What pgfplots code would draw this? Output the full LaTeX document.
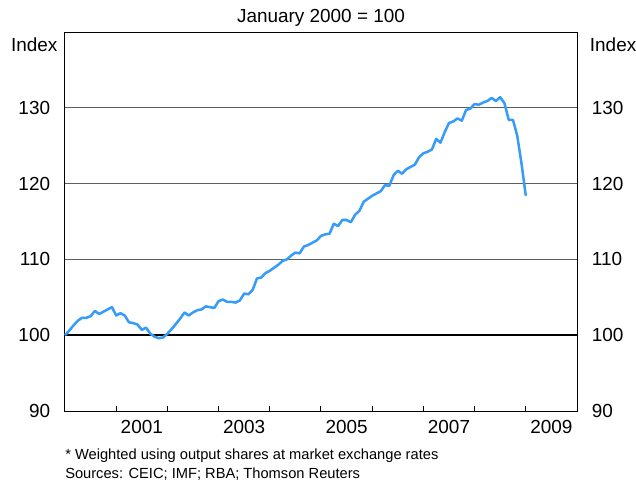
\documentclass[border=0pt]{standalone}
\usepackage{fontspec}
\setmainfont{Liberation Sans}
\usepackage{pgfplots}
\pgfplotsset{compat=1.18}
\definecolor{lineblue}{RGB}{55,155,250}
\definecolor{gridgray}{RGB}{95,95,95}
\begin{document}
\begin{tikzpicture}
\pgfplotsset{
  common/.style={
    scale only axis,
    width=384pt, height=284.25pt,
    at={(0,0)}, anchor=south west,
    xmin=2000, xmax=2010, ymin=90, ymax=140,
    ytick={90,100,110,120,130},
    /pgf/number format/assume math mode=true,
    tick label style={font=\fontsize{14.2}{16}\selectfont, inner sep=0pt},
  }
}
\begin{axis}[common,
  axis line style={black, line width=0.75pt},
  xtick={2001,...,2009},
  xticklabels={},
  xtick pos=bottom,
  xtick align=inside,
  x tick style={black, line width=0.75pt},
  major tick length=4pt,
  extra x ticks={2001.5,2003.5,2005.5,2007.5,2009.5},
  extra x tick labels={2001,2003,2005,2007,2009},
  extra x tick style={major tick length=0pt, xticklabel style={anchor=north, yshift=-6.5pt}},
  ytick pos=left,
  y tick style={draw=none},
  yticklabel style={anchor=east, xshift=-11pt},
  clip=false,
]
\addplot[gridgray, line width=0.75pt, forget plot] coordinates {(2000,110) (2010,110)};
\addplot[gridgray, line width=0.75pt, forget plot] coordinates {(2000,120) (2010,120)};
\addplot[gridgray, line width=0.75pt, forget plot] coordinates {(2000,130) (2010,130)};
\addplot[black, line width=1.2pt, forget plot] coordinates {(2000,100) (2010,100)};
\addplot[lineblue, line width=1.9pt, line join=round] table {
x y
2000.000 100.0
2000.083 100.6
2000.167 101.3
2000.250 101.9
2000.333 102.3
2000.417 102.3
2000.500 102.5
2000.583 103.2
2000.667 102.8
2000.750 103.1
2000.833 103.4
2000.917 103.7
2001.000 102.6
2001.083 102.9
2001.167 102.6
2001.250 101.7
2001.333 101.6
2001.417 101.4
2001.500 100.7
2001.583 101.0
2001.667 100.2
2001.750 99.8
2001.833 99.6
2001.917 99.7
2002.000 100.2
2002.083 100.8
2002.167 101.5
2002.250 102.2
2002.333 103.0
2002.417 102.6
2002.500 103.0
2002.583 103.3
2002.667 103.4
2002.750 103.8
2002.833 103.7
2002.917 103.6
2003.000 104.5
2003.083 104.7
2003.167 104.4
2003.250 104.4
2003.333 104.3
2003.417 104.6
2003.500 105.5
2003.583 105.4
2003.667 106.0
2003.750 107.5
2003.833 107.6
2003.917 108.2
2004.000 108.5
2004.083 108.9
2004.167 109.3
2004.250 109.8
2004.333 110.0
2004.417 110.5
2004.500 110.9
2004.583 110.8
2004.667 111.7
2004.750 111.9
2004.833 112.2
2004.917 112.5
2005.000 113.1
2005.083 113.3
2005.167 113.4
2005.250 114.7
2005.333 114.4
2005.417 115.2
2005.500 115.2
2005.583 114.9
2005.667 115.9
2005.750 116.4
2005.833 117.6
2005.917 118.0
2006.000 118.4
2006.083 118.7
2006.167 119.0
2006.250 119.8
2006.333 119.7
2006.417 121.1
2006.500 121.7
2006.583 121.3
2006.667 121.9
2006.750 122.2
2006.833 122.5
2006.917 123.5
2007.000 124.0
2007.083 124.2
2007.167 124.5
2007.250 125.9
2007.333 125.4
2007.417 126.8
2007.500 128.0
2007.583 128.2
2007.667 128.6
2007.750 128.3
2007.833 129.7
2007.917 129.9
2008.000 130.5
2008.083 130.4
2008.167 130.7
2008.250 130.9
2008.333 131.3
2008.417 130.9
2008.500 131.4
2008.583 130.6
2008.667 128.4
2008.750 128.4
2008.833 126.3
2008.917 122.6
2009.000 118.4
};
\node[font=\fontsize{14.2}{16}\selectfont, anchor=south] at (rel axis cs:0.5,1) [yshift=0.5pt] {January 2000 = 100};
\node[font=\fontsize{14.2}{16}\selectfont, anchor=east, inner sep=0pt] at (rel axis cs:0,1) [xshift=-5.5pt, yshift=-9.75pt] {Index};
\node[font=\fontsize{14.2}{16}\selectfont, anchor=west, inner sep=0pt] at (rel axis cs:1,1) [xshift=9.5pt, yshift=-9.75pt] {Index};
\node[font=\fontsize{11}{14}\selectfont, anchor=north west, inner sep=0pt, align=left] at (rel axis cs:0,0) [yshift=-28.5pt] {* Weighted using output shares at market exchange rates\\Sources: CEIC; IMF; RBA; Thomson Reuters};
\end{axis}
\begin{axis}[common,
  hide x axis,
  axis y line*=right,
  y axis line style={draw=none},
  y tick style={draw=none},
  yticklabel style={anchor=west, xshift=11pt},
]
\addplot[draw=none] coordinates {(2000,100)};
\end{axis}
\pgfresetboundingbox
\path[use as bounding box] (-48.75pt,-54pt) rectangle (428.25pt,308.25pt);
\end{tikzpicture}
\end{document}
